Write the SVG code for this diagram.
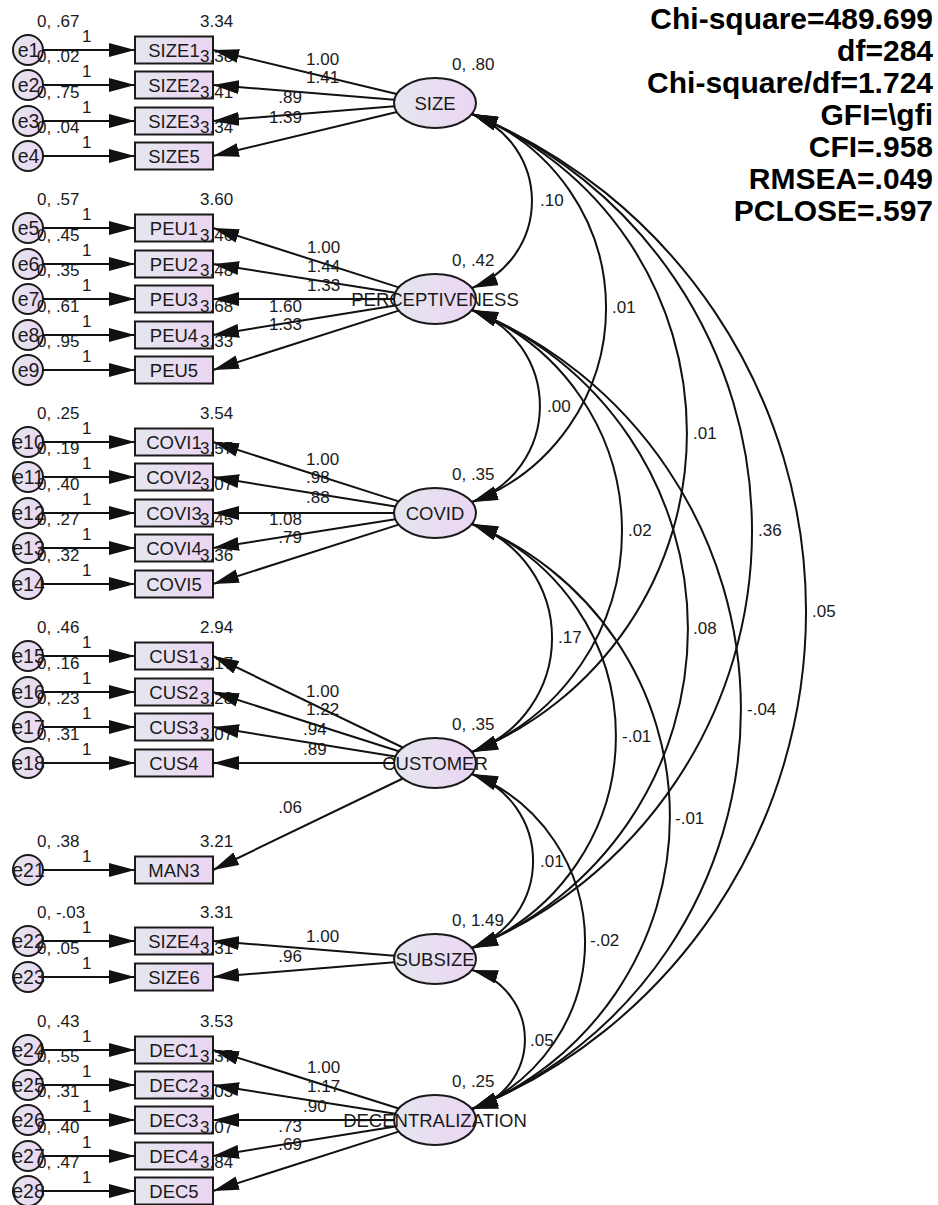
<svg xmlns="http://www.w3.org/2000/svg" width="938" height="1205" viewBox="0 0 938 1205">
<style>
.n{fill:url(#g);stroke:#1a1a1a;stroke-width:2}
.t{font-family:"Liberation Sans",Arial,sans-serif;font-size:18.5px;fill:#1a1a1a}
.ee{font-size:19.5px}
.m{text-anchor:middle}
.l{font-family:"Liberation Sans",Arial,sans-serif;font-size:17px;fill:#1a1a1a}
.e{text-anchor:end}
.c{fill:none;stroke:#111;stroke-width:2;marker-end:url(#ah)}
.cv{fill:none;stroke:#111;stroke-width:2;marker-start:url(#ah);marker-end:url(#ah)}
.st{font-family:"Liberation Sans",Arial,sans-serif;font-weight:bold;font-size:30px;text-anchor:end;fill:#000}
</style>
<defs>
<linearGradient id="g" x1="0" y1="0" x2="1" y2="0">
<stop offset="0" stop-color="#e3e7ef"/>
<stop offset="1" stop-color="#ecd5f3"/>
</linearGradient>
<marker id="ah" viewBox="-26 -7 26 14" refX="0" refY="0" markerWidth="26" markerHeight="14" markerUnits="userSpaceOnUse" orient="auto-start-reverse">
<path d="M0,0 L-26,-7 L-26,7 Z" fill="#111"/>
</marker>
</defs>

<g id="stats">
<text class="st" x="933" y="29">Chi-square=489.699</text>
<text class="st" x="933" y="61">df=284</text>
<text class="st" x="933" y="93">Chi-square/df=1.724</text>
<text class="st" x="933" y="125">GFI=\gfi</text>
<text class="st" x="933" y="157">CFI=.958</text>
<text class="st" x="933" y="189">RMSEA=.049</text>
<text class="st" x="933" y="221">PCLOSE=.597</text>
</g>

<!-- latent nodes -->
<g id="SIZE"><ellipse class="n" cx="435" cy="103" rx="41" ry="25"/><text class="t m" x="435" y="110">SIZE</text><text class="l" x="452" y="70">0, .80</text></g>
<g id="PERCEPTIVENESS"><ellipse class="n" cx="435" cy="299" rx="41" ry="25"/><text class="t m" x="435" y="306">PERCEPTIVENESS</text><text class="l" x="452" y="266">0, .42</text></g>
<g id="COVID"><ellipse class="n" cx="435" cy="513" rx="41" ry="25"/><text class="t m" x="435" y="520">COVID</text><text class="l" x="452" y="480">0, .35</text></g>
<g id="CUSTOMER"><ellipse class="n" cx="435" cy="763" rx="41" ry="25"/><text class="t m" x="435" y="770">CUSTOMER</text><text class="l" x="452" y="730">0, .35</text></g>
<g id="SUBSIZE"><ellipse class="n" cx="435" cy="959" rx="41" ry="25"/><text class="t m" x="435" y="966">SUBSIZE</text><text class="l" x="452" y="926">0, 1.49</text></g>
<g id="DECENTRALIZATION"><ellipse class="n" cx="435" cy="1120" rx="41" ry="25"/><text class="t m" x="435" y="1127">DECENTRALIZATION</text><text class="l" x="452" y="1087">0, .25</text></g>

<!-- error + indicator nodes -->
<g id="e1"><circle class="n" cx="28" cy="50" r="15"/><text class="t ee m" x="28.5" y="57">e1</text><text class="l" x="37" y="27">0, .67</text></g>
<g id="SIZE1"><rect class="n" x="135" y="36.5" width="78" height="27"/><text class="t m" x="174" y="56.5">SIZE1</text><text class="l" x="200" y="27">3.34</text></g>
<g id="e2"><circle class="n" cx="28" cy="85" r="15"/><text class="t ee m" x="28.5" y="92">e2</text><text class="l" x="37" y="62">0, .02</text></g>
<g id="SIZE2"><rect class="n" x="135" y="71.5" width="78" height="27"/><text class="t m" x="174" y="91.5">SIZE2</text><text class="l" x="200" y="62">3.38</text></g>
<g id="e3"><circle class="n" cx="28" cy="121" r="15"/><text class="t ee m" x="28.5" y="128">e3</text><text class="l" x="37" y="98">0, .75</text></g>
<g id="SIZE3"><rect class="n" x="135" y="107.5" width="78" height="27"/><text class="t m" x="174" y="127.5">SIZE3</text><text class="l" x="200" y="98">3.41</text></g>
<g id="e4"><circle class="n" cx="28" cy="156" r="15"/><text class="t ee m" x="28.5" y="163">e4</text><text class="l" x="37" y="133">0, .04</text></g>
<g id="SIZE5"><rect class="n" x="135" y="142.5" width="78" height="27"/><text class="t m" x="174" y="162.5">SIZE5</text><text class="l" x="200" y="133">3.34</text></g>

<g id="e5"><circle class="n" cx="28" cy="228" r="15"/><text class="t ee m" x="28.5" y="235">e5</text><text class="l" x="37" y="205">0, .57</text></g>
<g id="PEU1"><rect class="n" x="135" y="214.5" width="78" height="27"/><text class="t m" x="174" y="234.5">PEU1</text><text class="l" x="200" y="205">3.60</text></g>
<g id="e6"><circle class="n" cx="28" cy="264" r="15"/><text class="t ee m" x="28.5" y="271">e6</text><text class="l" x="37" y="241">0, .45</text></g>
<g id="PEU2"><rect class="n" x="135" y="250.5" width="78" height="27"/><text class="t m" x="174" y="270.5">PEU2</text><text class="l" x="200" y="241">3.46</text></g>
<g id="e7"><circle class="n" cx="28" cy="299" r="15"/><text class="t ee m" x="28.5" y="306">e7</text><text class="l" x="37" y="276">0, .35</text></g>
<g id="PEU3"><rect class="n" x="135" y="285.5" width="78" height="27"/><text class="t m" x="174" y="305.5">PEU3</text><text class="l" x="200" y="276">3.48</text></g>
<g id="e8"><circle class="n" cx="28" cy="335" r="15"/><text class="t ee m" x="28.5" y="342">e8</text><text class="l" x="37" y="312">0, .61</text></g>
<g id="PEU4"><rect class="n" x="135" y="321.5" width="78" height="27"/><text class="t m" x="174" y="341.5">PEU4</text><text class="l" x="200" y="312">3.68</text></g>
<g id="e9"><circle class="n" cx="28" cy="370" r="15"/><text class="t ee m" x="28.5" y="377">e9</text><text class="l" x="37" y="347">0, .95</text></g>
<g id="PEU5"><rect class="n" x="135" y="356.5" width="78" height="27"/><text class="t m" x="174" y="376.5">PEU5</text><text class="l" x="200" y="347">3.33</text></g>

<g id="e10"><circle class="n" cx="28" cy="442" r="15"/><text class="t ee m" x="28.5" y="449">e10</text><text class="l" x="37" y="419">0, .25</text></g>
<g id="COVI1"><rect class="n" x="135" y="428.5" width="78" height="27"/><text class="t m" x="174" y="448.5">COVI1</text><text class="l" x="200" y="419">3.54</text></g>
<g id="e11"><circle class="n" cx="28" cy="477" r="15"/><text class="t ee m" x="28.5" y="484">e11</text><text class="l" x="37" y="454">0, .19</text></g>
<g id="COVI2"><rect class="n" x="135" y="463.5" width="78" height="27"/><text class="t m" x="174" y="483.5">COVI2</text><text class="l" x="200" y="454">3.57</text></g>
<g id="e12"><circle class="n" cx="28" cy="513" r="15"/><text class="t ee m" x="28.5" y="520">e12</text><text class="l" x="37" y="490">0, .40</text></g>
<g id="COVI3"><rect class="n" x="135" y="499.5" width="78" height="27"/><text class="t m" x="174" y="519.5">COVI3</text><text class="l" x="200" y="490">3.07</text></g>
<g id="e13"><circle class="n" cx="28" cy="548" r="15"/><text class="t ee m" x="28.5" y="555">e13</text><text class="l" x="37" y="525">0, .27</text></g>
<g id="COVI4"><rect class="n" x="135" y="534.5" width="78" height="27"/><text class="t m" x="174" y="554.5">COVI4</text><text class="l" x="200" y="525">3.45</text></g>
<g id="e14"><circle class="n" cx="28" cy="584" r="15"/><text class="t ee m" x="28.5" y="591">e14</text><text class="l" x="37" y="561">0, .32</text></g>
<g id="COVI5"><rect class="n" x="135" y="570.5" width="78" height="27"/><text class="t m" x="174" y="590.5">COVI5</text><text class="l" x="200" y="561">3.36</text></g>

<g id="e15"><circle class="n" cx="28" cy="656" r="15"/><text class="t ee m" x="28.5" y="663">e15</text><text class="l" x="37" y="633">0, .46</text></g>
<g id="CUS1"><rect class="n" x="135" y="642.5" width="78" height="27"/><text class="t m" x="174" y="662.5">CUS1</text><text class="l" x="200" y="633">2.94</text></g>
<g id="e16"><circle class="n" cx="28" cy="692" r="15"/><text class="t ee m" x="28.5" y="699">e16</text><text class="l" x="37" y="669">0, .16</text></g>
<g id="CUS2"><rect class="n" x="135" y="678.5" width="78" height="27"/><text class="t m" x="174" y="698.5">CUS2</text><text class="l" x="200" y="669">3.17</text></g>
<g id="e17"><circle class="n" cx="28" cy="727" r="15"/><text class="t ee m" x="28.5" y="734">e17</text><text class="l" x="37" y="704">0, .23</text></g>
<g id="CUS3"><rect class="n" x="135" y="713.5" width="78" height="27"/><text class="t m" x="174" y="733.5">CUS3</text><text class="l" x="200" y="704">3.28</text></g>
<g id="e18"><circle class="n" cx="28" cy="763" r="15"/><text class="t ee m" x="28.5" y="770">e18</text><text class="l" x="37" y="740">0, .31</text></g>
<g id="CUS4"><rect class="n" x="135" y="749.5" width="78" height="27"/><text class="t m" x="174" y="769.5">CUS4</text><text class="l" x="200" y="740">3.07</text></g>

<g id="e21"><circle class="n" cx="28" cy="870" r="15"/><text class="t ee m" x="28.5" y="877">e21</text><text class="l" x="37" y="847">0, .38</text></g>
<g id="MAN3"><rect class="n" x="135" y="856.5" width="78" height="27"/><text class="t m" x="174" y="876.5">MAN3</text><text class="l" x="200" y="847">3.21</text></g>

<g id="e22"><circle class="n" cx="28" cy="941" r="15"/><text class="t ee m" x="28.5" y="948">e22</text><text class="l" x="37" y="918">0, -.03</text></g>
<g id="SIZE4"><rect class="n" x="135" y="927.5" width="78" height="27"/><text class="t m" x="174" y="947.5">SIZE4</text><text class="l" x="200" y="918">3.31</text></g>
<g id="e23"><circle class="n" cx="28" cy="977" r="15"/><text class="t ee m" x="28.5" y="984">e23</text><text class="l" x="37" y="954">0, .05</text></g>
<g id="SIZE6"><rect class="n" x="135" y="963.5" width="78" height="27"/><text class="t m" x="174" y="983.5">SIZE6</text><text class="l" x="200" y="954">3.31</text></g>

<g id="e24"><circle class="n" cx="28" cy="1050" r="15"/><text class="t ee m" x="28.5" y="1057">e24</text><text class="l" x="37" y="1027">0, .43</text></g>
<g id="DEC1"><rect class="n" x="135" y="1036.5" width="78" height="27"/><text class="t m" x="174" y="1056.5">DEC1</text><text class="l" x="200" y="1027">3.53</text></g>
<g id="e25"><circle class="n" cx="28" cy="1085" r="15"/><text class="t ee m" x="28.5" y="1092">e25</text><text class="l" x="37" y="1062">0, .55</text></g>
<g id="DEC2"><rect class="n" x="135" y="1071.5" width="78" height="27"/><text class="t m" x="174" y="1091.5">DEC2</text><text class="l" x="200" y="1062">3.37</text></g>
<g id="e26"><circle class="n" cx="28" cy="1120" r="15"/><text class="t ee m" x="28.5" y="1127">e26</text><text class="l" x="37" y="1097">0, .31</text></g>
<g id="DEC3"><rect class="n" x="135" y="1106.5" width="78" height="27"/><text class="t m" x="174" y="1126.5">DEC3</text><text class="l" x="200" y="1097">3.03</text></g>
<g id="e27"><circle class="n" cx="28" cy="1156" r="15"/><text class="t ee m" x="28.5" y="1163">e27</text><text class="l" x="37" y="1133">0, .40</text></g>
<g id="DEC4"><rect class="n" x="135" y="1142.5" width="78" height="27"/><text class="t m" x="174" y="1162.5">DEC4</text><text class="l" x="200" y="1133">3.07</text></g>
<g id="e28"><circle class="n" cx="28" cy="1191" r="15"/><text class="t ee m" x="28.5" y="1198">e28</text><text class="l" x="37" y="1168">0, .47</text></g>
<g id="DEC5"><rect class="n" x="135" y="1177.5" width="78" height="27"/><text class="t m" x="174" y="1197.5">DEC5</text><text class="l" x="200" y="1168">3.84</text></g>

<g id="connectors">
<!-- error arrows -->
<path class="c" d="M43,50H135"/><path class="c" d="M43,85H135"/><path class="c" d="M43,121H135"/><path class="c" d="M43,156H135"/>
<path class="c" d="M43,228H135"/><path class="c" d="M43,264H135"/><path class="c" d="M43,299H135"/><path class="c" d="M43,335H135"/><path class="c" d="M43,370H135"/>
<path class="c" d="M43,442H135"/><path class="c" d="M43,477H135"/><path class="c" d="M43,513H135"/><path class="c" d="M43,548H135"/><path class="c" d="M43,584H135"/>
<path class="c" d="M43,656H135"/><path class="c" d="M43,692H135"/><path class="c" d="M43,727H135"/><path class="c" d="M43,763H135"/>
<path class="c" d="M43,870H135"/>
<path class="c" d="M43,941H135"/><path class="c" d="M43,977H135"/>
<path class="c" d="M43,1050H135"/><path class="c" d="M43,1085H135"/><path class="c" d="M43,1120H135"/><path class="c" d="M43,1156H135"/><path class="c" d="M43,1191H135"/>
<g class="l">
<text x="82" y="42">1</text><text x="82" y="77">1</text><text x="82" y="113">1</text><text x="82" y="148">1</text>
<text x="82" y="220">1</text><text x="82" y="256">1</text><text x="82" y="291">1</text><text x="82" y="327">1</text><text x="82" y="362">1</text>
<text x="82" y="434">1</text><text x="82" y="469">1</text><text x="82" y="505">1</text><text x="82" y="540">1</text><text x="82" y="576">1</text>
<text x="82" y="648">1</text><text x="82" y="684">1</text><text x="82" y="719">1</text><text x="82" y="755">1</text>
<text x="82" y="862">1</text>
<text x="82" y="933">1</text><text x="82" y="969">1</text>
<text x="82" y="1042">1</text><text x="82" y="1077">1</text><text x="82" y="1112">1</text><text x="82" y="1148">1</text><text x="82" y="1183">1</text>
</g>
<!-- loadings -->
<path class="c" d="M396.7,94L213,50"/><path class="c" d="M394.3,99.7L213,85"/><path class="c" d="M394.3,106.3L213,121"/><path class="c" d="M396.9,112L213,156"/>
<path class="c" d="M398.7,287.4L213,228"/><path class="c" d="M395.3,292.7L213,264"/><path class="c" d="M394,299L213,299"/><path class="c" d="M395.4,305.4L213,335"/><path class="c" d="M398.7,310.6L213,370"/>
<path class="c" d="M398.7,501.4L213,442"/><path class="c" d="M395.4,506.6L213,477"/><path class="c" d="M394,513L213,513"/><path class="c" d="M395.3,519.3L213,548"/><path class="c" d="M398.7,524.6L213,584"/>
<path class="c" d="M402.8,747.5L213,656"/><path class="c" d="M398.8,751.3L213,692"/><path class="c" d="M395.4,756.6L213,727"/><path class="c" d="M394,763L213,763"/>
<path class="c" d="M402.8,778.5L213,870"/>
<path class="c" d="M394.3,955.8L213,941"/><path class="c" d="M394.4,962.3L213,977"/>
<path class="c" d="M398.7,1108.5L213,1050"/><path class="c" d="M395.3,1113.7L213,1085"/><path class="c" d="M394,1120L213,1120"/><path class="c" d="M395.4,1126.4L213,1156"/><path class="c" d="M398.7,1131.6L213,1191"/>
<g class="l">
<text x="306" y="65">1.00</text><text x="306" y="83">1.41</text><text class="e" x="302" y="103">.89</text><text class="e" x="302" y="123">1.39</text>
<text x="307" y="253">1.00</text><text x="307" y="272">1.44</text><text x="307" y="291">1.33</text><text class="e" x="302" y="312">1.60</text><text class="e" x="302" y="330">1.33</text>
<text x="306" y="465">1.00</text><text x="306" y="483">.98</text><text x="306" y="503">.88</text><text class="e" x="302" y="525">1.08</text><text class="e" x="302" y="543">.79</text>
<text x="306" y="697">1.00</text><text x="306" y="715">1.22</text><text x="303" y="735">.94</text><text x="303" y="755">.89</text>
<text class="e" x="302" y="813">.06</text>
<text x="306" y="942">1.00</text><text class="e" x="302" y="962">.96</text>
<text x="307" y="1073">1.00</text><text x="307" y="1092">1.17</text><text x="303" y="1112">.90</text><text class="e" x="302" y="1132">.73</text><text class="e" x="302" y="1150">.69</text>
</g>
<!-- covariances -->
<path class="cv" d="M472,114A93.1,93.1 0 0 1 472,288"/>
<path class="cv" d="M472,114A207.4,207.4 0 0 1 472,502"/>
<path class="cv" d="M472,114A344.2,344.2 0 0 1 472,752"/>
<path class="cv" d="M472,114A450.5,450.5 0 0 1 472,948"/>
<path class="cv" d="M472,114A537.5,537.5 0 0 1 472,1109"/>
<path class="cv" d="M472,310A101.8,101.8 0 0 1 472,502"/>
<path class="cv" d="M472,310A237.8,237.8 0 0 1 472,752"/>
<path class="cv" d="M472,310A343.6,343.6 0 0 1 472,948"/>
<path class="cv" d="M472,310A431.2,431.2 0 0 1 472,1109"/>
<path class="cv" d="M472,524A121.2,121.2 0 0 1 472,752"/>
<path class="cv" d="M472,524A228.1,228.1 0 0 1 472,948"/>
<path class="cv" d="M472,524A315.1,315.1 0 0 1 472,1109"/>
<path class="cv" d="M472,774A92.5,92.5 0 0 1 472,948"/>
<path class="cv" d="M472,774A180.6,180.6 0 0 1 472,1109"/>
<path class="cv" d="M472,970A72.1,72.1 0 0 1 472,1109"/>
<g class="l">
<text x="540" y="206">.10</text>
<text x="612" y="313">.01</text>
<text x="547" y="412">.00</text>
<text x="693" y="439">.01</text>
<text x="628" y="536">.02</text>
<text x="758" y="536">.36</text>
<text x="558" y="643">.17</text>
<text x="693" y="634">.08</text>
<text x="812" y="617">.05</text>
<text x="622" y="742">-.01</text>
<text x="747" y="715">-.04</text>
<text x="675" y="824">-.01</text>
<text x="540" y="867">.01</text>
<text x="590" y="946">-.02</text>
<text x="530" y="1046">.05</text>
</g>
</g>
</svg>
